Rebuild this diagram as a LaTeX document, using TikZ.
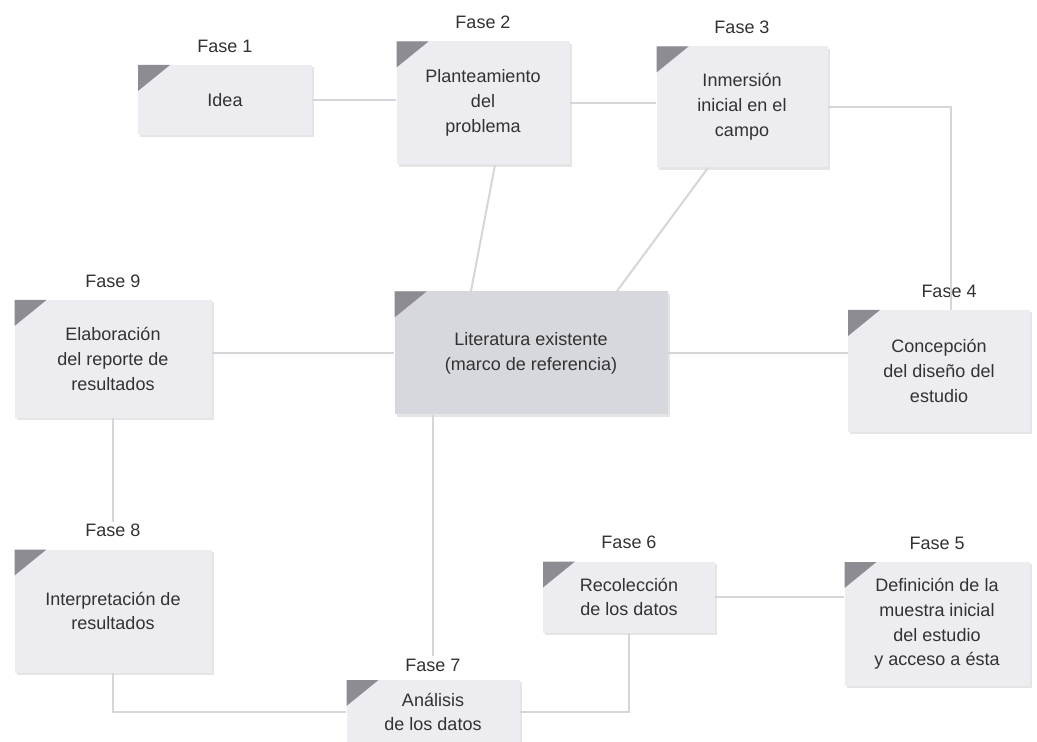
\documentclass[tikz,border=0pt]{standalone}
\usepackage{fontspec}
\setmainfont{Liberation Sans}
\usetikzlibrary{positioning,shadows}
\definecolor{boxfill}{RGB}{236,236,241}
\definecolor{litfill}{RGB}{215,215,222}
\definecolor{cornergray}{RGB}{140,140,146}
\definecolor{linegray}{RGB}{214,214,218}
\definecolor{textgray}{RGB}{50,50,50}

\begin{document}
\begin{tikzpicture}[x=0.5pt, y=-0.5pt,
    font=\fontsize{9}{12.4}\selectfont, text=textgray,
    fase/.style={fill=boxfill, align=center, inner sep=0pt,
        drop shadow={shadow xshift=1.2pt, shadow yshift=-1.2pt, fill=gray!40},
        path picture={\fill[cornergray] (path picture bounding box.north west)
            -- ++(16pt,0) -- ++(-16pt,-13pt) -- cycle;}},
    tag/.style={inner sep=1pt},
    link/.style={draw=linegray, line width=1pt},
    node distance=5pt]
    \fill[white] (0,0) rectangle (1037,742);
    \useasboundingbox (0,0) rectangle (1037,742);

    % Phases
    \node[fase, minimum width=87pt, minimum height=35pt] (idea) at (225,100) {Idea};
    \node[fase, minimum width=86.5pt, minimum height=61.5pt] (plan) at (483,103) {Planteamiento\\del\\problema};
    \node[fase, minimum width=85.5pt, minimum height=60.5pt] (inm) at (742,107) {Inmersión\\inicial en el\\campo};
    \node[fase, minimum width=91pt, minimum height=61pt] (dis) at (939,371) {Concepción\\del diseño del\\estudio};
    \node[fase, minimum width=92.5pt, minimum height=62pt] (mues) at (937,624) {Definición de la\\muestra inicial\\del estudio\\y acceso a ésta};
    \node[fase, minimum width=86pt, minimum height=35.5pt] (reco) at (629,597) {Recolección\\de los datos};
    \node[fase, minimum width=86.5pt, minimum height=32pt] (ana) at (433,712) {Análisis\\de los datos};
    \node[fase, minimum width=98.5pt, minimum height=61.5pt] (inter) at (113,611) {Interpretación de\\resultados};
    \node[fase, minimum width=98.5pt, minimum height=59pt] (rep) at (113,359) {Elaboración\\del reporte de\\resultados};
    \node[fase, fill=litfill, minimum width=136.5pt, minimum height=61.5pt] (lit) at (531,353) {Literatura existente\\(marco de referencia)};

    % Labels
    \node[tag, above=of idea] (f1) {Fase 1};
    \node[tag, above=of plan] (f2) {Fase 2};
    \node[tag, above=of inm] (f3) {Fase 3};
    \node[tag, above=of dis, xshift=5pt] (f4) {Fase 4};
    \node[tag, above=of mues] (f5) {Fase 5};
    \node[tag, above=of reco] (f6) {Fase 6};
    \node[tag, above=3pt of ana] (f7) {Fase 7};
    \node[tag, above=of inter] (f8) {Fase 8};
    \node[tag, above=of rep] (f9) {Fase 9};

    % Links
    \draw[link] (idea.east) -- (idea.east -| plan.west);
    \draw[link] (plan.east) -- (plan.east -| inm.west);
    \draw[link] ([xshift=6pt]dis.north) |- (inm.east);
    \draw[link] ([xshift=-30pt]lit.north) -- ([xshift=6pt]plan.south);
    \draw[link] ([xshift=43pt]lit.north) -- ([xshift=-17pt]inm.south);
    \draw[link] (lit.west) -- (lit.west -| rep.east);
    \draw[link] (lit.east) -- (lit.east -| dis.west);
    \draw[link] (rep) -- (f8);
    \draw[link] (lit.south -| f7.north) -- (f7.north);
    \draw[link] (ana.west) -| (inter.south);
    \draw[link] (reco.south) |- (ana.east);
    \draw[link] (mues.west |- reco.east) -- (reco.east);
\end{tikzpicture}
\end{document}
